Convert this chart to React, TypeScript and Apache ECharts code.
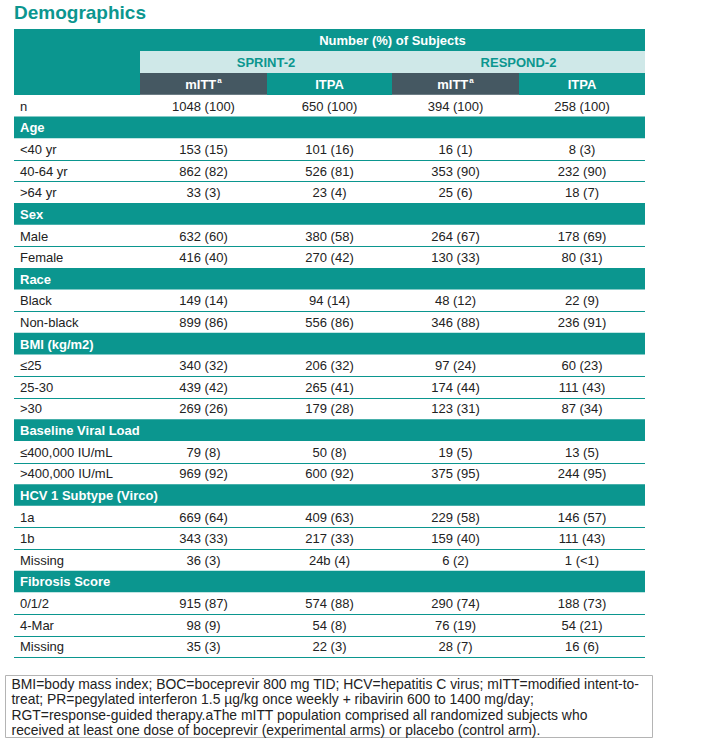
import React, { useEffect, useRef } from "react";
import * as echarts from "echarts";

const title = "Demographics";
const headerTop = "Number (%) of Subjects";
const studies = ["SPRINT-2", "RESPOND-2"];
const populations = ["mITT", "ITPA", "mITT", "ITPA"];
const populationSup = ["a", "", "a", ""];

const nLabel = "n";
const nValues = ["1048 (100)", "650 (100)", "394 (100)", "258 (100)"];

const sectionTitles = [
  "Age",
  "Sex",
  "Race",
  "BMI (kg/m2)",
  "Baseline Viral Load",
  "HCV 1 Subtype (Virco)",
  "Fibrosis Score",
];

const ageLabels = ["<40 yr", "40-64 yr", ">64 yr"];
const ageValues = [
  ["153 (15)", "101 (16)", "16 (1)", "8 (3)"],
  ["862 (82)", "526 (81)", "353 (90)", "232 (90)"],
  ["33 (3)", "23 (4)", "25 (6)", "18 (7)"],
];
const sexLabels = ["Male", "Female"];
const sexValues = [
  ["632 (60)", "380 (58)", "264 (67)", "178 (69)"],
  ["416 (40)", "270 (42)", "130 (33)", "80 (31)"],
];
const raceLabels = ["Black", "Non-black"];
const raceValues = [
  ["149 (14)", "94 (14)", "48 (12)", "22 (9)"],
  ["899 (86)", "556 (86)", "346 (88)", "236 (91)"],
];
const bmiLabels = ["≤25", "25-30", ">30"];
const bmiValues = [
  ["340 (32)", "206 (32)", "97 (24)", "60 (23)"],
  ["439 (42)", "265 (41)", "174 (44)", "111 (43)"],
  ["269 (26)", "179 (28)", "123 (31)", "87 (34)"],
];
const viralLabels = ["≤400,000 IU/mL", ">400,000 IU/mL"];
const viralValues = [
  ["79 (8)", "50 (8)", "19 (5)", "13 (5)"],
  ["969 (92)", "600 (92)", "375 (95)", "244 (95)"],
];
const hcvLabels = ["1a", "1b", "Missing"];
const hcvValues = [
  ["669 (64)", "409 (63)", "229 (58)", "146 (57)"],
  ["343 (33)", "217 (33)", "159 (40)", "111 (43)"],
  ["36 (3)", "24b (4)", "6 (2)", "1 (<1)"],
];
const fibrosisLabels = ["0/1/2", "4-Mar", "Missing"];
const fibrosisValues = [
  ["915 (87)", "574 (88)", "290 (74)", "188 (73)"],
  ["98 (9)", "54 (8)", "76 (19)", "54 (21)"],
  ["35 (3)", "22 (3)", "28 (7)", "16 (6)"],
];

const footnoteLines = [
  "BMI=body mass index; BOC=boceprevir 800 mg TID; HCV=hepatitis C virus; mITT=modified intent-to-",
  "treat; PR=pegylated interferon 1.5 µg/kg once weekly + ribavirin 600 to 1400 mg/day;",
  "RGT=response-guided therapy.aThe mITT population comprised all randomized subjects who",
  "received at least one dose of boceprevir (experimental arms) or placebo (control arm).",
];

const TEAL = "#0b968f";
const LIGHT = "#cfe8e8";
const SLATE = "#455862";
const TEXT = "#222222";
const FONT = "'Liberation Sans', Arial, sans-serif";

export default function App() {
  const ref = useRef<HTMLDivElement>(null);
  useEffect(() => {
    if (!ref.current) return;
    const chart = echarts.init(ref.current, undefined, { renderer: "svg" });

    const sections = [
      { labels: ageLabels, values: ageValues },
      { labels: sexLabels, values: sexValues },
      { labels: raceLabels, values: raceValues },
      { labels: bmiLabels, values: bmiValues },
      { labels: viralLabels, values: viralValues },
      { labels: hcvLabels, values: hcvValues },
      { labels: fibrosisLabels, values: fibrosisValues },
    ];

    const L = 14;
    const R = 645;
    const edges = [14, 140, 267, 392, 519, 645];
    const centers = [0, 1, 2, 3].map((i) => (edges[i + 1] + edges[i + 2]) / 2);
    const rowH = 21.62;
    const els: any[] = [];

    els.push({
      type: "text",
      x: 14,
      y: 12.5,
      style: {
        text: title,
        font: `bold 19px ${FONT}`,
        fill: TEAL,
        verticalAlign: "middle",
      },
    });

    // header row 1
    els.push({ type: "rect", shape: { x: L, y: 29, width: R - L, height: 22 }, style: { fill: TEAL } });
    els.push({
      type: "text",
      x: (edges[1] + R) / 2,
      y: 40,
      style: { text: headerTop, font: `bold 13px ${FONT}`, fill: "#fff", align: "center", verticalAlign: "middle" },
    });
    // header row 2
    els.push({ type: "rect", shape: { x: L, y: 51, width: edges[1] - L, height: 22 }, style: { fill: TEAL } });
    els.push({ type: "rect", shape: { x: edges[1], y: 51, width: R - edges[1], height: 22 }, style: { fill: LIGHT } });
    studies.forEach((s, i) => {
      els.push({
        type: "text",
        x: (edges[1 + i * 2] + edges[3 + i * 2]) / 2,
        y: 62,
        style: { text: s, font: `bold 13px ${FONT}`, fill: TEAL, align: "center", verticalAlign: "middle" },
      });
    });
    // header row 3
    els.push({ type: "rect", shape: { x: L, y: 73, width: edges[1] - L, height: 22 }, style: { fill: TEAL } });
    populations.forEach((p, i) => {
      const dark = populationSup[i] !== "";
      els.push({
        type: "rect",
        shape: { x: edges[i + 1], y: 73, width: edges[i + 2] - edges[i + 1], height: 22 },
        style: { fill: dark ? SLATE : TEAL },
      });
      els.push({
        type: "text",
        x: centers[i],
        y: 84,
        style: {
          text: dark ? `{m|${p}}{s|${populationSup[i]}}` : `{m|${p}}`,
          align: "center",
          verticalAlign: "middle",
          rich: {
            m: { font: `bold 13px ${FONT}`, fill: "#fff", lineHeight: 16 },
            s: { font: `bold 8px ${FONT}`, fill: "#fff", lineHeight: 16, verticalAlign: "top", padding: [0, 0, 0, 1] },
          },
        },
      });
    });
    els.push({ type: "line", shape: { x1: edges[1], y1: 94.5, x2: edges[2], y2: 94.5 }, style: { stroke: "#6b7c84", lineWidth: 1 } });
    els.push({ type: "line", shape: { x1: edges[3], y1: 94.5, x2: edges[4], y2: 94.5 }, style: { stroke: "#6b7c84", lineWidth: 1 } });

    let y = 95;
    const dataRow = (label: string, vals: string[]) => {
      const cy = y + rowH / 2 + 0.5;
      els.push({
        type: "text",
        x: 20,
        y: cy,
        style: { text: label, font: `13px ${FONT}`, fill: TEXT, verticalAlign: "middle" },
      });
      vals.forEach((v, i) => {
        els.push({
          type: "text",
          x: centers[i],
          y: cy,
          style: { text: v, font: `13px ${FONT}`, fill: TEXT, align: "center", verticalAlign: "middle" },
        });
      });
      y += rowH;
    };

    dataRow(nLabel, nValues);
    sections.forEach((sec, si) => {
      els.push({ type: "rect", shape: { x: L, y: y, width: R - L, height: rowH }, style: { fill: TEAL } });
      els.push({
        type: "text",
        x: 20,
        y: y + rowH / 2 + 0.5,
        style: { text: sectionTitles[si], font: `bold 13px ${FONT}`, fill: "#fff", verticalAlign: "middle" },
      });
      y += rowH;
      sec.labels.forEach((lab, ri) => {
        dataRow(lab, sec.values[ri]);
        const isLast = ri === sec.labels.length - 1;
        if (!isLast || si === sections.length - 1) {
          const ly = Math.round(y) + 0.5;
          els.push({
            type: "line",
            shape: { x1: L, y1: ly, x2: R, y2: ly },
            style: { stroke: TEAL, lineWidth: 1 },
          });
        }
      });
    });

    // footnote box
    els.push({
      type: "rect",
      shape: { x: 5.5, y: 675.5, width: 647, height: 62 },
      style: { fill: "none", stroke: "#b4b4b4", lineWidth: 1 },
    });
    footnoteLines.forEach((t, i) => {
      els.push({
        type: "text",
        x: 11.5,
        y: 683.5 + i * 15.5,
        style: { text: t, font: `13.9px ${FONT}`, fill: TEXT, verticalAlign: "middle" },
      });
    });

    chart.setOption({
      animation: false,
      backgroundColor: "#ffffff",
      graphic: { elements: els },
    });
    return () => chart.dispose();
  }, []);
  return (
    <div
      ref={ref}
      style={{ position: "absolute", left: 0, top: 0, width: 723, height: 752 }}
    />
  );
}
